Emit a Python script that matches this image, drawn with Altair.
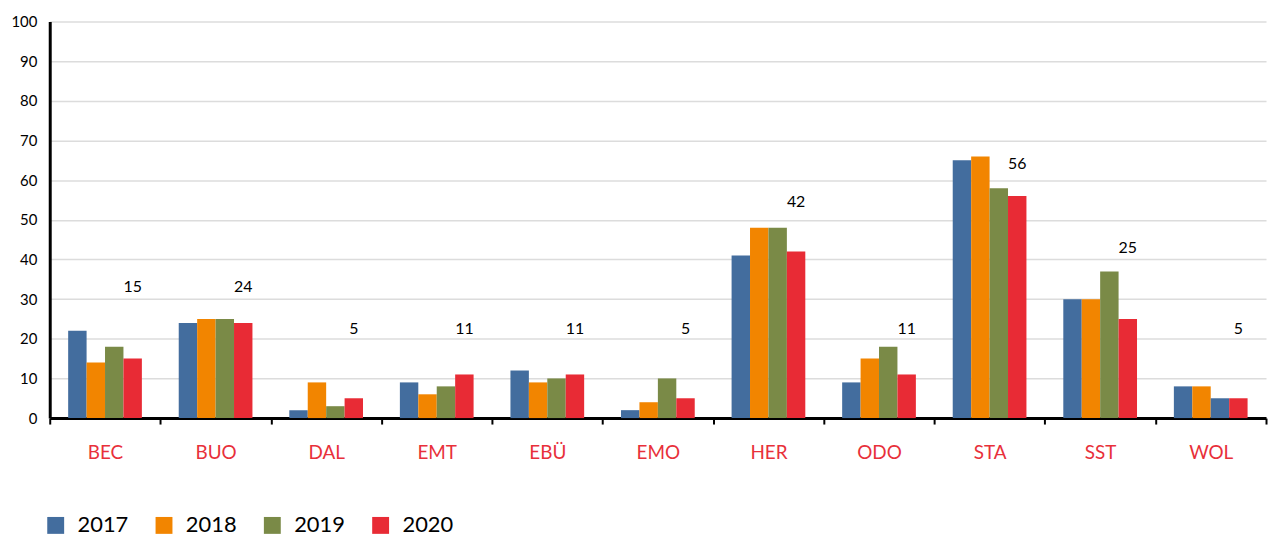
import altair as alt
import pandas as pd

categories = ["BEC", "BUO", "DAL", "EMT", "EBÜ", "EMO", "HER", "ODO", "STA", "SST", "WOL"]
years = ["2017", "2018", "2019", "2020"]
v2017 = [22, 24, 2, 9, 12, 2, 41, 9, 65, 30, 8]
v2018 = [14, 25, 9, 6, 9, 4, 48, 15, 66, 30, 8]
v2019 = [18, 25, 3, 8, 10, 10, 48, 18, 58, 37, 5]
v2020 = [15, 24, 5, 11, 11, 5, 42, 11, 56, 25, 5]
# annotation shown above each group (the 2020 value) and its height on the value axis
labels = [15, 24, 5, 11, 11, 5, 42, 11, 56, 25, 5]
label_y = [33, 33, 22.5, 22.5, 22.5, 22.5, 54.5, 22.5, 64, 43, 22.5]
# the WOL 2019 bar is drawn in the 2017 colour in the original
colour_override = {("WOL", "2019"): "2017"}
colours = ["#436d9e", "#f28500", "#7a8a47", "#e82b35"]
y_ticks = list(range(0, 101, 10))

series = {"2017": v2017, "2018": v2018, "2019": v2019, "2020": v2020}
rows = []
for y in years:
    for c, v in zip(categories, series[y]):
        rows.append({"cat": c, "year": y, "value": v,
                     "swatch": colour_override.get((c, y), y)})
df = pd.DataFrame(rows)
lab_df = pd.DataFrame({"cat": categories, "year": "2020", "label": labels, "pos": label_y})

FONT = "Lato"

x_axis = alt.Axis(labelAngle=0, tickBand="extent", tickSize=6, tickWidth=2,
                  tickColor="black", domainColor="black", domainWidth=3,
                  labelColor="#e8303a", labelFontSize=19, labelPadding=20,
                  labelFont=FONT, grid=False)
y_axis = alt.Axis(values=y_ticks, ticks=False, labelOverlap=False,
                  domainColor="black", domainWidth=3,
                  gridColor="#dcdcdc", gridWidth=1.5,
                  labelFontSize=15, labelFont=FONT, labelColor="black",
                  labelPadding=13)
x_scale = alt.Scale(paddingInner=0, paddingOuter=0)
xo_scale = alt.Scale(domain=years, paddingInner=0, paddingOuter=1.0)
y_scale = alt.Scale(domain=[0, 100], nice=False)

bars = alt.Chart(df).mark_bar().encode(
    x=alt.X("cat:N", sort=categories, title=None, scale=x_scale, axis=x_axis),
    xOffset=alt.XOffset("year:N", sort=years, scale=xo_scale),
    y=alt.Y("value:Q", title=None, scale=y_scale, axis=y_axis),
    color=alt.Color("swatch:N", title=None,
                    scale=alt.Scale(domain=years, range=colours),
                    legend=alt.Legend(orient="none", direction="horizontal",
                                      legendX=-5, legendY=496,
                                      symbolType="square", symbolSize=289,
                                      symbolStrokeWidth=0, symbolOpacity=1,
                                      labelFontSize=22, labelFont=FONT,
                                      labelColor="black", labelOffset=11,
                                      columnPadding=24)),
)

text = alt.Chart(lab_df).mark_text(fontSize=16, font=FONT, color="black",
                                   baseline="middle").encode(
    x=alt.X("cat:N", sort=categories, title=None, scale=x_scale, axis=x_axis),
    xOffset=alt.XOffset("year:N", sort=years, scale=xo_scale),
    y=alt.Y("pos:Q", title=None, scale=y_scale, axis=y_axis),
    text="label:Q",
)

chart = alt.layer(bars, text).properties(
    width=1224, height=399,
    autosize=alt.AutoSizeParams(type="none"),
    padding={"left": 42, "top": 12, "right": 2, "bottom": 122},
).configure_view(strokeWidth=0)

chart.save("out.html", embed_options={"renderer": "svg", "actions": False})
